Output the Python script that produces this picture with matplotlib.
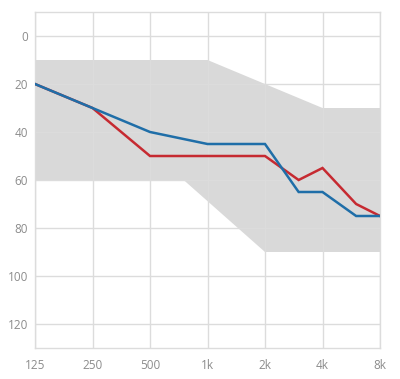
import matplotlib
matplotlib.use("Agg")
import matplotlib.pyplot as plt
import numpy as np

plt.rcParams['font.family'] = ['Open Sans', 'DejaVu Sans']

freq_ticks = [125, 250, 500, 1000, 2000, 4000, 8000]
freq_labels = ['125', '250', '500', '1k', '2k', '4k', '8k']
y_ticks = [0, 20, 40, 60, 80, 100, 120]

band_upper_f = [125, 1000, 2000, 4000, 8000]
band_upper_v = [10, 10, 20, 30, 30]
band_lower_f = [125, 750, 2000, 8000]
band_lower_v = [60, 60, 90, 90]

line_f = [125, 250, 500, 1000, 2000, 3000, 4000, 6000, 8000]
blue_v = [20, 30, 40, 45, 45, 65, 65, 75, 75]
red_v = [20, 30, 50, 50, 50, 60, 55, 70, 75]

fig = plt.figure(figsize=(4.0, 3.79), dpi=100)
ax = fig.add_axes([35/400, 1-348/379, 345/400, 336/379])

# band polygon
xs = list(band_upper_f) + list(band_lower_f[::-1])
ys = list(band_upper_v) + list(band_lower_v[::-1])
ax.fill(xs, ys, color='#d9d9d9', lw=0, zorder=1)

for t in freq_ticks:
    ax.axvline(t, color='#dcdcdc', lw=1, zorder=2)
for t in y_ticks:
    ax.axhline(t, color='#dcdcdc', lw=1, zorder=2)

ax.plot(line_f, red_v, color='#c62a31', lw=1.8, zorder=3, solid_joinstyle='miter')
ax.plot(line_f, blue_v, color='#1f6ea8', lw=1.8, zorder=4, solid_joinstyle='miter')

ax.set_xscale('log', base=2)
ax.set_xlim(125, 8000)
ax.set_ylim(130, -10)
ax.set_xticks(freq_ticks)
ax.set_xticklabels(freq_labels)
ax.set_xticks([], minor=True)
ax.set_yticks(y_ticks)
ax.tick_params(axis='both', length=0, colors='#8c8c8c', labelsize=8.5)
ax.tick_params(axis='x', pad=8)
ax.tick_params(axis='y', pad=5)
for s in ax.spines.values():
    s.set_color('#dcdcdc')
    s.set_linewidth(1)

fig.savefig('out.png', dpi=100)
